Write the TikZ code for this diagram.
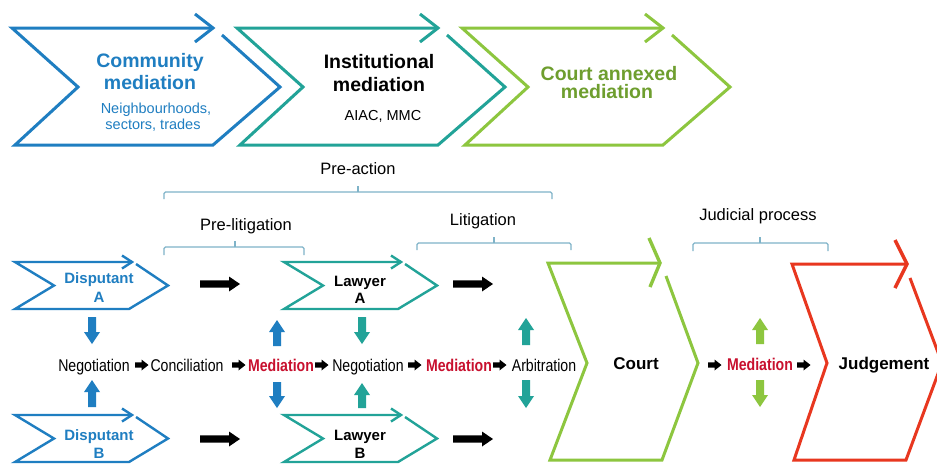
\documentclass[tikz,border=0pt]{standalone}
\usepackage{fontspec}
\setmainfont{Liberation Sans}
\newfontfamily\narrowfont[FakeStretch=0.83]{Liberation Sans}
\usetikzlibrary{arrows.meta}
\definecolor{cblue}{HTML}{1F7EC1}
\definecolor{cteal}{HTML}{22A398}
\definecolor{cgreen}{HTML}{8DC63F}
\definecolor{cgreentxt}{HTML}{6E9E2E}
\definecolor{cred}{HTML}{E8371F}
\definecolor{credtxt}{HTML}{C8102E}
\definecolor{cbrace}{HTML}{7FB3C8}
\newcommand\myfs[1]{\fontsize{#1}{#1}\selectfont}
\newcommand\bigchev[2]{%
  \draw[#1, line width=3, line join=miter] (#2+210,35) -- (#2+268,87) -- (#2+201,145) -- (#2+3,145) -- (#2+66,87) -- (#2,28) -- (#2+201,28);
  \draw[#1, line width=3, line join=miter] (#2+183,14) -- (#2+201,28) -- (#2+183,42);
}
\newcommand\smallchev[3]{%
  \draw[#1, line width=2.4, line join=miter] (#2+121,#3+2) -- (#2+153,#3+23.5) -- (#2+114,#3+47) -- (#2,#3+47) -- (#2+39,#3+23.5) -- (#2,#3) -- (#2+117,#3);
  \draw[#1, line width=2.4, line join=miter] (#2+107,#3-6.5) -- (#2+117,#3) -- (#2+107,#3+6.5);
}
\newcommand\vup[4]{%
  \fill[#1] (#2,#3) -- (#2+8,#3+12) -- (#2+4,#3+12) -- (#2+4,#4) -- (#2-4,#4) -- (#2-4,#3+12) -- (#2-8,#3+12) -- cycle;}
\newcommand\vdown[4]{%
  \fill[#1] (#2,#4) -- (#2+8,#4-12) -- (#2+4,#4-12) -- (#2+4,#3) -- (#2-4,#3) -- (#2-4,#4-12) -- (#2-8,#4-12) -- cycle;}
\newcommand\harr[2]{%
  \fill (#1,#2-2.6) -- (#1+6.5,#2-2.6) -- (#1+6.5,#2-5.5) -- (#1+13.5,#2) -- (#1+6.5,#2+5.5) -- (#1+6.5,#2+2.6) -- (#1,#2+2.6) -- cycle;}
\newcommand\bigarr[2]{%
  \fill (#1,#2-3.6) -- (#1+29,#2-3.6) -- (#1+29,#2-7.5) -- (#1+40,#2) -- (#1+29,#2+7.5) -- (#1+29,#2+3.6) -- (#1,#2+3.6) -- cycle;}
\tikzset{
  txt/.style={anchor=base, inner sep=0pt},
  toptitle/.style={txt, font=\myfs{19.5}\bfseries},
  topsub/.style={txt, font=\myfs{14.5}},
  lbl/.style={txt, font=\myfs{16.5}},
  chevtxt/.style={txt, font=\myfs{15}\bfseries},
  rowtxt/.style={txt, font=\myfs{17}\narrowfont},
  rowmed/.style={txt, font=\myfs{17}\narrowfont\bfseries, text=credtxt},
  bigtxt/.style={txt, font=\myfs{17}\bfseries},
  brace/.style={cbrace, line width=1.1, rounded corners=1.5},
}
\begin{document}
\begin{tikzpicture}[x=1pt,y=-1pt]
\useasboundingbox (0,0) rectangle (937,464);
\clip (0,0) rectangle (937,464);
\fill[white] (0,0) rectangle (937,464);
% top chevrons
\bigchev{cblue}{12}
\bigchev{cteal}{237}
\bigchev{cgreen}{462}
\node[toptitle, text=cblue] (t1a) at (150,67) {Community};
\node[toptitle, text=cblue] (t1b) at (150,89) {mediation};
\node[topsub, text=cblue] (t1c) at (156,113) {Neighbourhoods,};
\node[topsub, text=cblue] (t1d) at (153,129) {sectors, trades};
\node[toptitle] (t2a) at (379,68) {Institutional};
\node[toptitle] (t2b) at (379,91) {mediation};
\node[topsub] (t2c) at (383,120) {AIAC, MMC};
\node[toptitle, text=cgreentxt] (t3a) at (609,80) {Court annexed};
\node[toptitle, text=cgreentxt] (t3b) at (607,98) {mediation};
% braces
\draw[brace] (164,199) -- (164,192) -- (552,192) -- (552,199);
\draw[brace] (358,192) -- (358,186);
\node[lbl] (preaction) at (358,174) {Pre-action};
\draw[brace] (164,255) -- (164,247) -- (304,247) -- (304,255);
\draw[brace] (235,247) -- (235,241);
\node[lbl] (prelit) at (246,230) {Pre-litigation};
\draw[brace] (417,250) -- (417,243) -- (571,243) -- (571,250);
\draw[brace] (494,243) -- (494,237);
\node[lbl] (lit) at (483,225) {Litigation};
\draw[brace] (693,251) -- (693,243) -- (828,243) -- (828,251);
\draw[brace] (760,243) -- (760,237);
\node[lbl] (jud) at (758,220) {Judicial process};
% small chevrons
\smallchev{cblue}{15}{262}
\smallchev{cblue}{15}{415}
\smallchev{cteal}{284}{262}
\smallchev{cteal}{284}{415}
\node[chevtxt, text=cblue] (da1) at (99,283) {Disputant};
\node[chevtxt, text=cblue] (da2) at (99,302) {A};
\node[chevtxt, text=cblue] (db1) at (99,440) {Disputant};
\node[chevtxt, text=cblue] (db2) at (99,458) {B};
\node[chevtxt] (la1) at (360,286) {Lawyer};
\node[chevtxt] (la2) at (360,303) {A};
\node[chevtxt] (lb1) at (360,440) {Lawyer};
\node[chevtxt] (lb2) at (360,458) {B};
% big black arrows
\bigarr{200}{284}
\bigarr{453}{284}
\bigarr{200}{439}
\bigarr{453}{439}
% court & judgement chevrons
\draw[cgreen, line width=3, line join=miter] (666,276) -- (698,363) -- (662,460) -- (550,460) -- (587,363) -- (548,263) -- (660,263);
\draw[cgreen, line width=3.4, line join=miter] (649,238) -- (660,263) -- (650,287);
\draw[cred, line width=3, line join=miter] (910,278) -- (942,363) -- (906,460) -- (794,460) -- (827,363) -- (792,264) -- (907,264);
\draw[cred, line width=3.4, line join=miter] (895,240) -- (907,264) -- (895,288);
\node[bigtxt] (court) at (636,369) {Court};
\node[bigtxt] (judg) at (884,369) {Judgement};
% row text
\node[rowtxt] (neg1) at (94,371) {Negotiation};
\node[rowtxt] (conc) at (187,371) {Conciliation};
\node[rowmed] (med1) at (281,371) {Mediation};
\node[rowtxt] (neg2) at (368,371) {Negotiation};
\node[rowmed] (med2) at (459,371) {Mediation};
\node[rowtxt] (arb) at (544,371) {Arbitration};
\node[rowmed] (med3) at (760,370) {Mediation};
\harr{135}{365}
\harr{232}{365}
\harr{315}{365}
\harr{408}{365}
\harr{493}{365}
\harr{708}{365}
\harr{797}{365}
% vertical arrows
\vdown{cblue}{92}{317}{344}
\vup{cblue}{92}{380}{407}
\vup{cblue}{277}{320}{346}
\vdown{cblue}{277}{382}{408}
\vdown{cteal}{362}{317}{344}
\vup{cteal}{362}{383}{408}
\vup{cteal}{526}{318}{345}
\vdown{cteal}{526}{380}{408}
\vup{cgreen}{760}{318}{344}
\vdown{cgreen}{760}{380}{407}
\end{tikzpicture}
\end{document}
